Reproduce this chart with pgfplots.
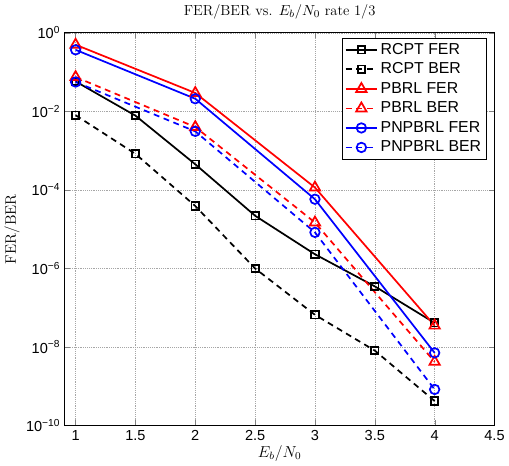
\documentclass[border=0pt]{standalone}
\usepackage{pgfplots}
\pgfplotsset{compat=1.18}
\usepackage{fontspec}
\newfontfamily\helv{Liberation Sans}
\begin{document}
\begin{tikzpicture}
\begin{axis}[
  scale only axis, width=325pt, height=297pt,
  ymode=log, xmin=0.91, xmax=4.5, ymin=1e-10, ymax=1,
  xtick={1,1.5,2,2.5,3,3.5,4,4.5},
  xticklabels={1,1.5,2,2.5,3,3.5,4,4.5},
  ytick={1,1e-2,1e-4,1e-6,1e-8,1e-10},
  yticklabels={10\textsuperscript{0},10\textsuperscript{−2},10\textsuperscript{−4},10\textsuperscript{−6},10\textsuperscript{−8},10\textsuperscript{−10}},
  minor ytick={}, yminorticks=false,
  tick label style={font=\helv\fontsize{11}{13}\selectfont},
  tick align=inside, tick pos=both, major tick length=4pt,
  grid=major, grid style={densely dotted, gray!70, line width=0.4pt},
  axis line style={line width=0.6pt},
  title={FER/BER vs. $E_b/N_0$ rate 1/3},
  title style={font=\fontsize{11}{13}\selectfont, yshift=1pt},
  xlabel={$E_b/N_0$}, ylabel={FER/BER},
  label style={font=\fontsize{11.5}{13}\selectfont},
  xlabel style={yshift=3pt}, ylabel style={yshift=-2pt},
  legend style={at={(0.982,0.988)}, anchor=north east, font=\helv\fontsize{12}{14}\selectfont,
    draw=black, row sep=1pt, inner sep=2pt},
  legend cell align=left,
  legend image code/.code={\draw[mark repeat=2,mark phase=2] plot coordinates {(0cm,0cm) (0.42cm,0cm) (0.84cm,0cm)};},
  every axis plot/.append style={line width=1.3pt},
  mydash/.style={dash pattern=on 4.5pt off 3.5pt},
]
\addplot[black, mark=square, mark size=2.8pt, mark options={solid}] coordinates {
(1,0.058) (1.5,7.8e-3) (2,4.5e-4) (2.5,2.2e-5) (3,2.3e-6) (3.5,3.5e-7) (4,4.1e-8)};
\addplot[black, mydash, mark=square, mark size=2.8pt, mark options={solid}] coordinates {
(1,8e-3) (1.5,8.3e-4) (2,3.9e-5) (2.5,1e-6) (3,6.6e-8) (3.5,8.1e-9) (4,4.2e-10)};
\addplot[red, mark=triangle, mark size=4.5pt, mark options={solid}] coordinates {
(1,0.5) (2,0.0295) (3,1.15e-4) (4,3.5e-8)};
\addplot[red, mydash, mark=triangle, mark size=4.5pt, mark options={solid}] coordinates {
(1,0.075) (2,4.0e-3) (3,1.48e-5) (4,4.2e-9)};
\addplot[blue, mark=o, mark size=3.6pt, mark options={solid}] coordinates {
(1,0.37) (2,0.021) (3,5.8e-5) (4,7.1e-9)};
\addplot[blue, mydash, mark=o, mark size=3.6pt, mark options={solid}] coordinates {
(1,0.056) (2,3.1e-3) (3,8.3e-6) (4,8.3e-10)};
\legend{RCPT FER, RCPT BER, PBRL FER, PBRL BER, PNPBRL FER, PNPBRL BER}
\end{axis}
\end{tikzpicture}
\end{document}
